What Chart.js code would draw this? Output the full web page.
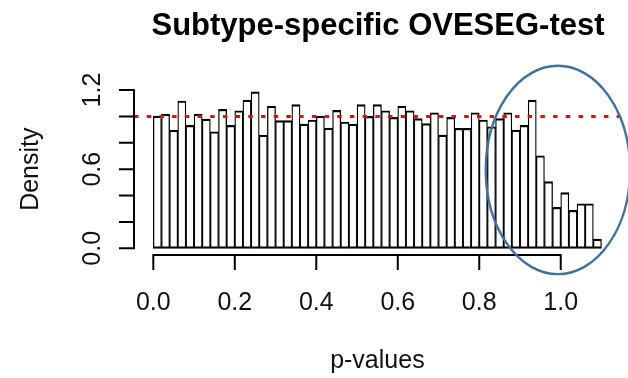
<!DOCTYPE html>
<html>
<head>
<meta charset="utf-8">
<script src="https://cdn.jsdelivr.net/npm/chart.js@4/dist/chart.umd.min.js"></script>
<style>
  html, body { margin: 0; padding: 0; background: #ffffff; }
  canvas { display: block; }
</style>
</head>
<body>
<canvas id="c" width="628" height="378"></canvas>
<script>
// Histogram of p-values, bins of width 0.02 starting at 0
const binWidth = 0.02;
const density = [
  1.003, 1.018, 0.897, 1.117, 0.932, 1.018, 0.980, 0.884, 1.054, 0.932,
  1.043, 1.124, 1.187, 0.859, 1.079, 0.968, 0.968, 1.089, 0.942, 0.973,
  1.003, 0.912, 1.046, 0.958, 0.942, 1.089, 1.000, 1.089, 1.043, 0.993,
  1.079, 1.043, 0.983, 0.945, 1.028, 0.859, 0.993, 0.910, 0.910, 1.028,
  0.973, 0.922, 0.983, 1.028, 0.897, 0.932, 1.124, 0.702, 0.505, 0.311,
  0.422, 0.288, 0.338, 0.338, 0.070
];

const xTicks = [0, 0.2, 0.4, 0.6, 0.8, 1.0];
const xTickLabels = ['0.0', '0.2', '0.4', '0.6', '0.8', '1.0'];
const yTicks = [0, 0.2, 0.4, 0.6, 0.8, 1.0, 1.2];
const yTickLabels = ['0.0', '', '', '0.6', '', '', '1.2'];

const refLevel = 1.0;            // uniform density reference
const titleText = 'Subtype-specific OVESEG-test';
const xTitle = 'p-values';
const yTitle = 'Density';

// highlighted region around the right tail (data units)
const highlight = { x: 0.993, y: 0.594, rx: 0.177, ry: 0.79 };

// plot region limits
const X_MIN = -0.0474, X_MAX = 1.144;
const Y_MIN = -0.0508, Y_MAX = 1.2345;

const bars = density.map((d, i) => ({ x: (i + 0.5) * binWidth, y: d }));

const FONT = '"Liberation Sans", Arial, Helvetica, sans-serif';

// base-graphics style axes, labels, title and the highlight ellipse
const baseAxes = {
  id: 'baseAxes',
  afterDraw(chart) {
    const { ctx, scales: { x, y } } = chart;
    const tick = 15;
    const axY = y.getPixelForValue(Y_MIN);
    const axX = x.getPixelForValue(X_MIN);
    ctx.save();
    ctx.strokeStyle = '#000';
    ctx.lineWidth = 2;
    ctx.lineCap = 'butt';

    // x axis
    ctx.beginPath();
    ctx.moveTo(x.getPixelForValue(xTicks[0]) - 1, axY);
    ctx.lineTo(x.getPixelForValue(xTicks[xTicks.length - 1]) + 1, axY);
    xTicks.forEach(v => {
      const p = x.getPixelForValue(v);
      ctx.moveTo(p, axY);
      ctx.lineTo(p, axY + tick);
    });
    // y axis
    ctx.moveTo(axX, y.getPixelForValue(yTicks[0]) + 1);
    ctx.lineTo(axX, y.getPixelForValue(yTicks[yTicks.length - 1]) - 1);
    yTicks.forEach(v => {
      const p = y.getPixelForValue(v);
      ctx.moveTo(axX, p);
      ctx.lineTo(axX - tick, p);
    });
    ctx.stroke();

    ctx.fillStyle = '#111';
    ctx.font = '25px ' + FONT;
    ctx.textAlign = 'center';
    ctx.textBaseline = 'alphabetic';
    xTicks.forEach((v, i) => {
      ctx.fillText(xTickLabels[i], x.getPixelForValue(v), 310);
    });
    yTicks.forEach((v, i) => {
      if (!yTickLabels[i]) return;
      ctx.save();
      ctx.translate(100, y.getPixelForValue(v));
      ctx.rotate(-Math.PI / 2);
      ctx.fillText(yTickLabels[i], 0, 0);
      ctx.restore();
    });

    // axis titles
    ctx.fillText(xTitle, x.getPixelForValue(0.55), 368);
    ctx.save();
    ctx.translate(38, y.getPixelForValue(0.6));
    ctx.rotate(-Math.PI / 2);
    ctx.fillText(yTitle, 0, 0);
    ctx.restore();

    // main title
    ctx.font = 'bold 31px ' + FONT;
    ctx.fillStyle = '#000';
    ctx.fillText(titleText, 378, 35);

    // highlight ellipse
    const cx = x.getPixelForValue(highlight.x);
    const cy = y.getPixelForValue(highlight.y);
    const rx = x.getPixelForValue(highlight.x + highlight.rx) - cx;
    const ry = cy - y.getPixelForValue(highlight.y + highlight.ry);
    ctx.beginPath();
    ctx.ellipse(cx, cy, rx, ry, 0, 0, Math.PI * 2);
    ctx.strokeStyle = '#41719C';
    ctx.lineWidth = 2.4;
    ctx.stroke();
    ctx.restore();
  }
};

new Chart(document.getElementById('c'), {
  data: {
    datasets: [
      {
        type: 'line',
        data: [{ x: X_MIN, y: refLevel }, { x: X_MAX, y: refLevel }],
        borderColor: '#ff0000',
        borderWidth: 3,
        borderDash: [4.5, 8.2],
        pointRadius: 0,
        fill: false,
        tension: 0
      },
      {
        type: 'bar',
        data: bars,
        backgroundColor: '#ffffff',
        borderColor: '#000000',
        borderWidth: { top: 2.2, bottom: 2.2, left: 1.3, right: 1.3 },
        borderSkipped: false,
        barPercentage: 1,
        categoryPercentage: 1
      }
    ]
  },
  options: {
    responsive: false,
    animation: false,
    devicePixelRatio: 1,
    events: [],
    layout: { padding: { left: 134, top: 85.5, right: 8.6, bottom: 123 } },
    scales: {
      x: { type: 'linear', offset: false, min: X_MIN, max: X_MAX, display: false },
      y: { type: 'linear', min: Y_MIN, max: Y_MAX, display: false }
    },
    plugins: {
      legend: { display: false },
      tooltip: { enabled: false },
      title: { display: false }
    }
  },
  plugins: [baseAxes]
});
</script>
</body>
</html>
